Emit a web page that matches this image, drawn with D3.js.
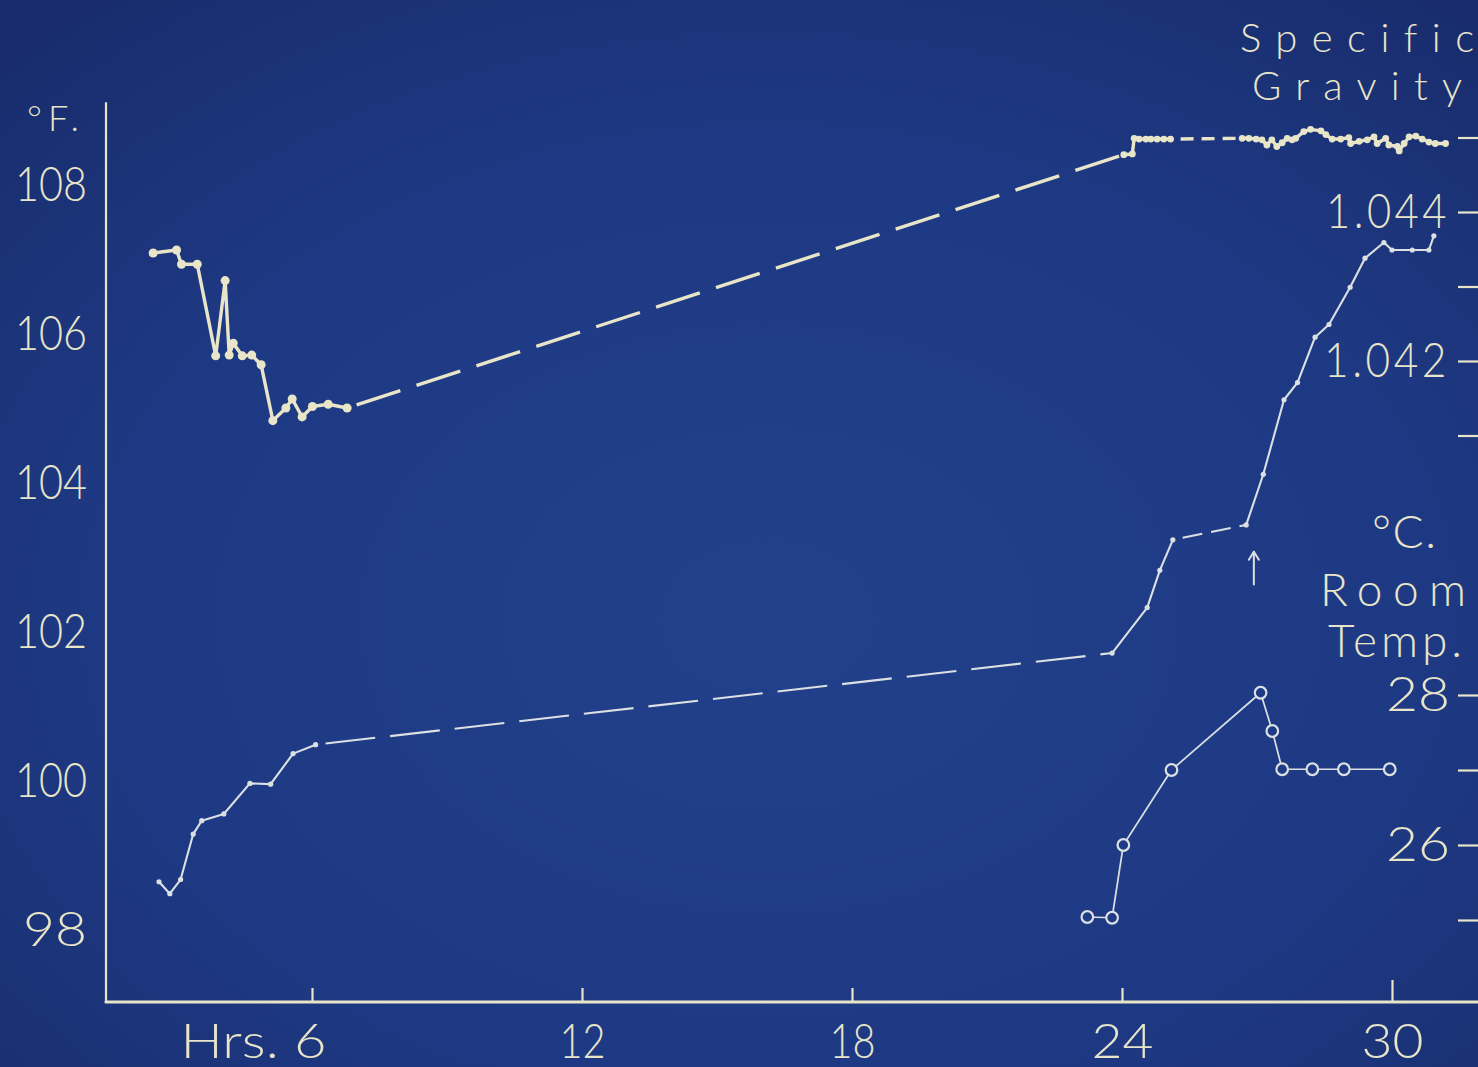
<!DOCTYPE html>
<html>
<head>
<meta charset="utf-8">
<script src="https://cdn.jsdelivr.net/npm/d3@7"></script>
<style>
  html, body { margin: 0; padding: 0; background: #1d3680; overflow: hidden; }
  svg { display: block; }
  text { font-variant-ligatures: none; font-feature-settings: "liga" 0; }
</style>
</head>
<body>
<script>
// ---- data -------------------------------------------------------------
const hourTicks = [6, 12, 18, 24, 30];
const fahrenheitTicks = [98, 100, 102, 104, 106, 108];
const gravityTicks = [1.041, 1.042, 1.043, 1.044, 1.045];
const gravityLabelled = [1.042, 1.044];
const roomTicks = [25, 26, 27, 28];
const roomLabelled = [26, 28];

// temperature, °F (left scale)
const tempHours = [
  2.47, 2.99, 3.10, 3.45, 3.86, 4.07, 4.16, 4.25, 4.45, 4.66, 4.87, 5.13, 5.42, 5.56, 5.78, 6.01, 6.36, 6.78,
  24.04, 24.23, 24.27, 24.38, 24.53, 24.64, 24.78, 24.93, 25.08,
  26.67, 26.82, 26.98, 27.11, 27.22, 27.33, 27.44, 27.56, 27.67, 27.78, 27.86, 28.04, 28.19, 28.42, 28.53,
  28.67, 28.86, 29.04, 29.08, 29.27, 29.45, 29.60, 29.67, 29.86, 29.93, 30.12, 30.16, 30.27, 30.38, 30.53,
  30.67, 30.82, 30.96, 31.19
];
const tempF = [
  107.06, 107.10, 106.91, 106.91, 105.68, 106.69, 105.69, 105.85, 105.68, 105.69, 105.56, 104.81, 104.98, 105.10, 104.86, 105.00, 105.03, 104.98,
  108.38, 108.39, 108.60, 108.59, 108.59, 108.59, 108.59, 108.59, 108.59,
  108.60, 108.60, 108.59, 108.58, 108.51, 108.58, 108.49, 108.54, 108.60, 108.58, 108.60, 108.69, 108.72, 108.70, 108.65,
  108.59, 108.59, 108.61, 108.53, 108.56, 108.58, 108.62, 108.53, 108.60, 108.51, 108.49, 108.43, 108.53, 108.62, 108.63,
  108.59, 108.55, 108.53, 108.53
];
const tempDashedAfter = [17, 26];

// specific gravity (right scale)
const gravityHours = [
  2.60, 2.84, 3.08, 3.36, 3.55, 4.04, 4.62, 5.08, 5.58, 6.08,
  23.78, 24.56, 24.84, 25.13,
  26.76, 27.14, 27.60, 27.90, 28.29, 28.60, 29.07, 29.40, 29.82, 30.00, 30.45, 30.82, 30.93
];
const gravityValues = [
  1.03501, 1.03485, 1.03504, 1.03565, 1.03583, 1.03592, 1.03633, 1.03632, 1.03673, 1.03685,
  1.03808, 1.03869, 1.03919, 1.03960,
  1.03980, 1.04048, 1.04148, 1.04171, 1.04232, 1.04249, 1.04299, 1.04338, 1.04359, 1.04349, 1.04349, 1.04349, 1.04368
];
const gravityDashedAfter = [9, 13];

// room temperature, °C
const roomHours = [23.23, 23.78, 24.03, 25.10, 27.08, 27.34, 27.56, 28.23, 28.93, 29.95];
const roomC = [25.04, 25.03, 26.00, 27.00, 28.03, 27.52, 27.01, 27.01, 27.01, 27.01];

// marker arrow under the gravity curve
const arrowHour = 26.93;
const arrowGravity = [1.03900, 1.03944];

// ---- layout -----------------------------------------------------------
const W = 1478, H = 1067;
const axisLeftX = 106, axisBottomY = 1002, axisTopY = 103;
const INK = "#e8e5c9";
const INK_BLUE = "#dbe0e2";
const BG_MID = "#1f3b86";
const FONT = "Lato, 'Open Sans', 'DejaVu Sans', sans-serif";

const x = d3.scaleLinear().domain([0, 30]).range([42, 1392]);
const yF = d3.scaleLinear().domain([98, 108]).range([928, 183]);
const yG = d3.scaleLinear().domain([1.041, 1.045]).range([435.5, 137.5]);
const yC = d3.scaleLinear().domain([25, 28]).range([920, 695]);

const svg = d3.select("body").append("svg").attr("width", W).attr("height", H);

// paper
const grad = svg.append("defs").append("radialGradient")
  .attr("id", "paper").attr("cx", "52%").attr("cy", "58%").attr("r", "75%");
grad.append("stop").attr("offset", "0%").attr("stop-color", "#22408b");
grad.append("stop").attr("offset", "60%").attr("stop-color", "#1e3983");
grad.append("stop").attr("offset", "100%").attr("stop-color", "#182c6c");
svg.append("rect").attr("width", W).attr("height", H).attr("fill", "url(#paper)");

// ---- axes -------------------------------------------------------------
const axes = svg.append("g").attr("stroke-linecap", "round");
axes.append("line")
  .attr("x1", axisLeftX).attr("x2", axisLeftX).attr("y1", axisTopY).attr("y2", axisBottomY)
  .attr("stroke", INK).attr("stroke-width", 2.2);
axes.append("line")
  .attr("x1", axisLeftX).attr("x2", W + 2).attr("y1", axisBottomY).attr("y2", axisBottomY)
  .attr("stroke", INK).attr("stroke-width", 3.2);

function styleAxis(g) {
  g.select(".domain").remove();
  g.selectAll("line").attr("stroke", INK).attr("stroke-width", 2.2);
  g.selectAll("text")
    .attr("fill", INK).attr("font-family", FONT).attr("font-weight", 300)
    .attr("font-size", 48).attr("lengthAdjust", "spacingAndGlyphs");
}

// hours
const xAxis = svg.append("g").attr("transform", `translate(0,${axisBottomY})`)
  .call(d3.axisBottom(x).tickValues(hourTicks).tickSizeInner(-14).tickSizeOuter(0).tickPadding(22)
    .tickFormat(d => d === 6 ? "Hrs. 6" : d));
styleAxis(xAxis);
xAxis.selectAll(".tick").filter(d => d === 30).select("line").attr("y2", -22);
xAxis.selectAll("text").attr("textLength", d => d === 6 ? 146 : (d >= 24 ? 62 : 46));
xAxis.selectAll(".tick").filter(d => d === 6).select("text")
  .attr("text-anchor", "end").attr("x", 14);

// °F
const fAxis = svg.append("g").attr("transform", `translate(${axisLeftX},0)`)
  .call(d3.axisLeft(yF).tickValues(fahrenheitTicks).tickSize(0).tickPadding(19));
styleAxis(fAxis);
fAxis.selectAll("text").attr("textLength", d => d >= 100 ? 72 : 64).attr("dy", "0.36em");

// specific gravity
const gAxis = svg.append("g").attr("transform", `translate(${W},0)`)
  .call(d3.axisLeft(yG).tickValues(gravityTicks).tickSize(20).tickPadding(8)
    .tickFormat(d => gravityLabelled.some(v => Math.abs(v - d) < 1e-9) ? d3.format(".3f")(d) : ""));
styleAxis(gAxis);
gAxis.selectAll("text").attr("letter-spacing", 4).attr("textLength", d => Math.abs(d - 1.044) < 1e-9 ? 124 : 126);

// room temperature
const cAxis = svg.append("g").attr("transform", `translate(${W},0)`)
  .call(d3.axisLeft(yC).tickValues(roomTicks).tickSize(20).tickPadding(8)
    .tickFormat(d => roomLabelled.includes(d) ? d : ""));
styleAxis(cAxis);
cAxis.selectAll("text").attr("textLength", 64);

// ---- titles -----------------------------------------------------------
const titles = [
  { t: "°F.", x: 27, y: 131, size: 36, len: 52 },
  { t: "Specific", x: 1240, y: 52, size: 40, len: 234 },
  { t: "Gravity", x: 1252, y: 100, size: 40, len: 210 },
  { t: "°C.", x: 1372, y: 548, size: 46, len: 64 },
  { t: "Room", x: 1320, y: 606, size: 46, len: 146 },
  { t: "Temp.", x: 1328, y: 657, size: 46, len: 134 }
];
svg.append("g").selectAll("text").data(titles).join("text")
  .attr("x", d => d.x).attr("y", d => d.y)
  .attr("font-size", d => d.size).attr("textLength", d => d.len)
  .attr("lengthAdjust", "spacing")
  .attr("fill", INK).attr("font-family", FONT).attr("font-weight", 300)
  .text(d => d.t);

// ---- series -----------------------------------------------------------
const line = d3.line();

function drawSeries(hours, values, dashedAfter, y, s) {
  const g = svg.append("g").attr("fill", "none").attr("stroke", s.color)
    .attr("stroke-width", s.width).attr("stroke-linejoin", "round").attr("stroke-linecap", "round");
  const pts = hours.map((h, i) => [x(h), y(values[i])]);
  let start = 0;
  const runs = [];
  dashedAfter.forEach(b => { runs.push(pts.slice(start, b + 1)); start = b + 1; });
  runs.push(pts.slice(start));
  runs.forEach(r => { if (r.length > 1) g.append("path").attr("d", line(r)); });
  dashedAfter.forEach(b => {
    const a = pts[b], c = pts[b + 1];
    const len = Math.hypot(c[0] - a[0], c[1] - a[1]);
    g.append("path").attr("d", line([a, c]))
      .attr("stroke-linecap", "butt")
      .attr("stroke-dasharray", len > 200 ? s.longDash : s.shortDash)
      .attr("stroke-dashoffset", -10);
  });
  svg.append("g").selectAll("circle").data(pts).join("circle")
    .attr("cx", d => d[0]).attr("cy", d => d[1])
    .attr("r", (d, i) => typeof s.r === "function" ? s.r(i) : s.r)
    .attr("fill", s.color);
}

drawSeries(tempHours, tempF, tempDashedAfter, yF, {
  color: INK, width: 3.4, longDash: "46 17", shortDash: "13 8",
  r: i => i <= 17 ? 4.5 : 3.4
});

drawSeries(gravityHours, gravityValues, gravityDashedAfter, yG, {
  color: INK_BLUE, width: 2.1, longDash: "50 15", shortDash: "20 9", r: 2.6
});

// room temperature: open circles
const roomPts = roomHours.map((h, i) => [x(h), yC(roomC[i])]);
svg.append("path").attr("d", line(roomPts))
  .attr("fill", "none").attr("stroke", INK_BLUE).attr("stroke-width", 1.7)
  .attr("stroke-linejoin", "round");
svg.append("g").selectAll("circle").data(roomPts).join("circle")
  .attr("cx", d => d[0]).attr("cy", d => d[1]).attr("r", 5.8)
  .attr("fill", BG_MID).attr("stroke", INK_BLUE).attr("stroke-width", 2.2);

// arrow
const ax = x(arrowHour), ay0 = yG(arrowGravity[0]), ay1 = yG(arrowGravity[1]);
const arrow = svg.append("g").attr("stroke", INK_BLUE).attr("stroke-width", 2)
  .attr("fill", "none").attr("stroke-linecap", "round").attr("stroke-linejoin", "round");
arrow.append("line").attr("x1", ax).attr("x2", ax).attr("y1", ay0).attr("y2", ay1);
arrow.append("path").attr("d", line([[ax - 5, ay1 + 8], [ax, ay1], [ax + 5, ay1 + 8]]));
</script>
</body>
</html>
